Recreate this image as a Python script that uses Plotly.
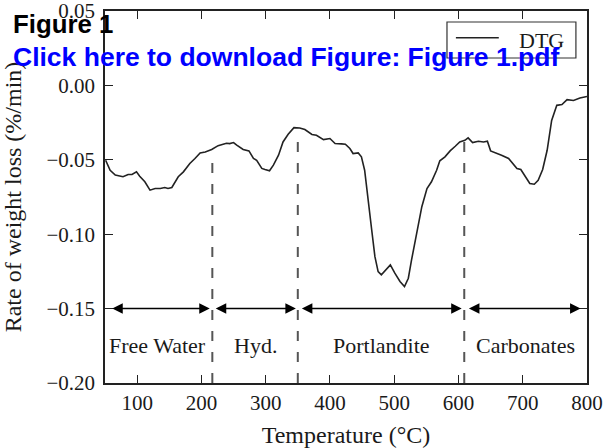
import plotly.graph_objects as go

# DTG curve
temp = [51, 58, 66, 78, 86, 92, 99, 104, 112, 120, 128, 136, 143, 148, 154, 164, 172,
        182, 190, 198, 206, 216, 226, 239, 244, 250, 255, 265, 274, 281, 286, 294, 299,
        306, 312, 320, 327, 335, 344, 353, 361, 372, 379, 390, 400, 408, 418, 424, 431,
        436, 444, 449, 454, 460, 465, 470, 475, 480, 488, 494, 501, 509, 516, 522, 527,
        535, 543, 551, 558, 566, 571, 579, 587, 595, 602, 610, 615, 622, 631, 639, 645,
        650, 660, 667, 678, 685, 691, 697, 704, 711, 718, 724, 731, 738, 745, 753, 761,
        769, 779, 789, 800]
dtg = [-0.0503, -0.0570, -0.0603, -0.0614, -0.0599, -0.0599, -0.0581, -0.0610, -0.0648,
       -0.0704, -0.0693, -0.0693, -0.0686, -0.0693, -0.0686, -0.0614, -0.0581, -0.0525,
       -0.0491, -0.0454, -0.0447, -0.0431, -0.0405, -0.0389, -0.0391, -0.0384, -0.0402,
       -0.0431, -0.0440, -0.0491, -0.0503, -0.0558, -0.0565, -0.0574, -0.0536, -0.0469,
       -0.0380, -0.0328, -0.0284, -0.0286, -0.0297, -0.0330, -0.0335, -0.0364, -0.0357,
       -0.0391, -0.0393, -0.0395, -0.0424, -0.0458, -0.0454, -0.0480, -0.0570, -0.0771,
       -0.0972, -0.1151, -0.1251, -0.1273, -0.1235, -0.1206, -0.1262, -0.1318, -0.1352,
       -0.1296, -0.1173, -0.0994, -0.0815, -0.0693, -0.0648, -0.0570, -0.0507, -0.0480,
       -0.0440, -0.0409, -0.0380, -0.0369, -0.0353, -0.0384, -0.0375, -0.0380, -0.0375,
       -0.0440, -0.0454, -0.0469, -0.0491, -0.0530, -0.0558, -0.0565, -0.0614, -0.0659,
       -0.0664, -0.0637, -0.0565, -0.0436, -0.0235, -0.0134, -0.0129, -0.0096, -0.0101,
       -0.0085, -0.0074]

x_ticks = [100, 200, 300, 400, 500, 600, 700, 800]
y_ticks = [-0.20, -0.15, -0.10, -0.05, 0.00, 0.05]

regions = ['Free Water', 'Hyd.', 'Portlandite', 'Carbonates']
label_x = [132, 284, 480, 704]
arrow_from = [59, 220, 354, 614]
arrow_to = [213, 347, 605, 790]
boundary_x = [217, 350, 609]
boundary_top = [-0.050, -0.035, -0.036]
arrow_y = -0.15
label_y = -0.175

serif = 'Liberation Serif'
ink = '#1a1a1a'

fig = go.Figure()
fig.add_trace(go.Scatter(x=temp, y=dtg, mode='lines', name='DTG', showlegend=False,
                         line=dict(color='#222222', width=1.6)))

for bx, top in zip(boundary_x, boundary_top):
    fig.add_shape(type='line', xref='x', yref='y', x0=bx, x1=bx, y0=-0.2, y1=top,
                  line=dict(color='#555555', width=2, dash='10px,11px'))

# legend box drawn by hand so the sample line and text sit like the original
fig.add_shape(type='rect', xref='paper', yref='paper', x0=0.7095, x1=0.977,
              y0=0.8737, y1=0.9704, fillcolor='white', line=dict(color='#333333', width=1.2))
fig.add_shape(type='line', xref='paper', yref='paper', x0=0.728, x1=0.817,
              y0=0.928, y1=0.928, line=dict(color='#222222', width=1.6))

annotations = [dict(x=0.9056, y=0.922, xref='paper', yref='paper', xanchor='center',
                    yanchor='middle', text='DTG', showarrow=False,
                    font=dict(family=serif, size=22, color=ink))]
for name, lx, a0, a1 in zip(regions, label_x, arrow_from, arrow_to):
    annotations.append(dict(x=a1, y=arrow_y, ax=a0, ay=arrow_y, xref='x', yref='y',
                            axref='x', ayref='y', text='', showarrow=True,
                            arrowhead=2, arrowside='end+start', arrowsize=1.4,
                            arrowwidth=1.5, arrowcolor='black'))
    annotations.append(dict(x=lx, y=label_y, xref='x', yref='y', text=name,
                            showarrow=False, font=dict(family=serif, size=22, color=ink)))

annotations.append(dict(x=-0.195, y=0.9646, xref='paper', yref='paper', xanchor='left',
                        yanchor='middle', text='<b>Figure 1</b>', showarrow=False,
                        font=dict(family='Liberation Sans', size=25.8, color='black')))
annotations.append(dict(x=-0.195, y=0.876, xref='paper', yref='paper', xanchor='left',
                        yanchor='middle', text='<b>Click here to download Figure: Figure 1.pdf</b>',
                        showarrow=False,
                        font=dict(family='Liberation Sans', size=26.5, color='#0000ff')))

fig.update_layout(
    width=606, height=448,
    margin=dict(l=105, r=19, t=11, b=65),
    plot_bgcolor='white', paper_bgcolor='white',
    font=dict(family=serif, size=21, color=ink),
    annotations=annotations,
)
axis_style = dict(showgrid=False, zeroline=False, showline=True, linecolor='#222222',
                  linewidth=1.5, ticks='inside', ticklen=8, tickwidth=1.2,
                  tickcolor='#222222', mirror='ticks', automargin=False,
                  ticklabeloverflow='allow')
fig.update_xaxes(range=[50, 800], tickvals=x_ticks,
                 title=dict(text='Temperature (°C)', font=dict(size=24), standoff=13),
                 **axis_style)
fig.update_yaxes(range=[-0.2, 0.05], tickvals=y_ticks, tickformat='.2f', ticklabelstandoff=4,
                 title=dict(text='Rate of weight loss (%/min)', font=dict(size=24), standoff=20),
                 **axis_style)

# drop the default 8px body margin so the figure fills the window exactly
fig.write_html('out.html', config={'displayModeBar': False},
               post_script="document.body.style.margin='0';")
